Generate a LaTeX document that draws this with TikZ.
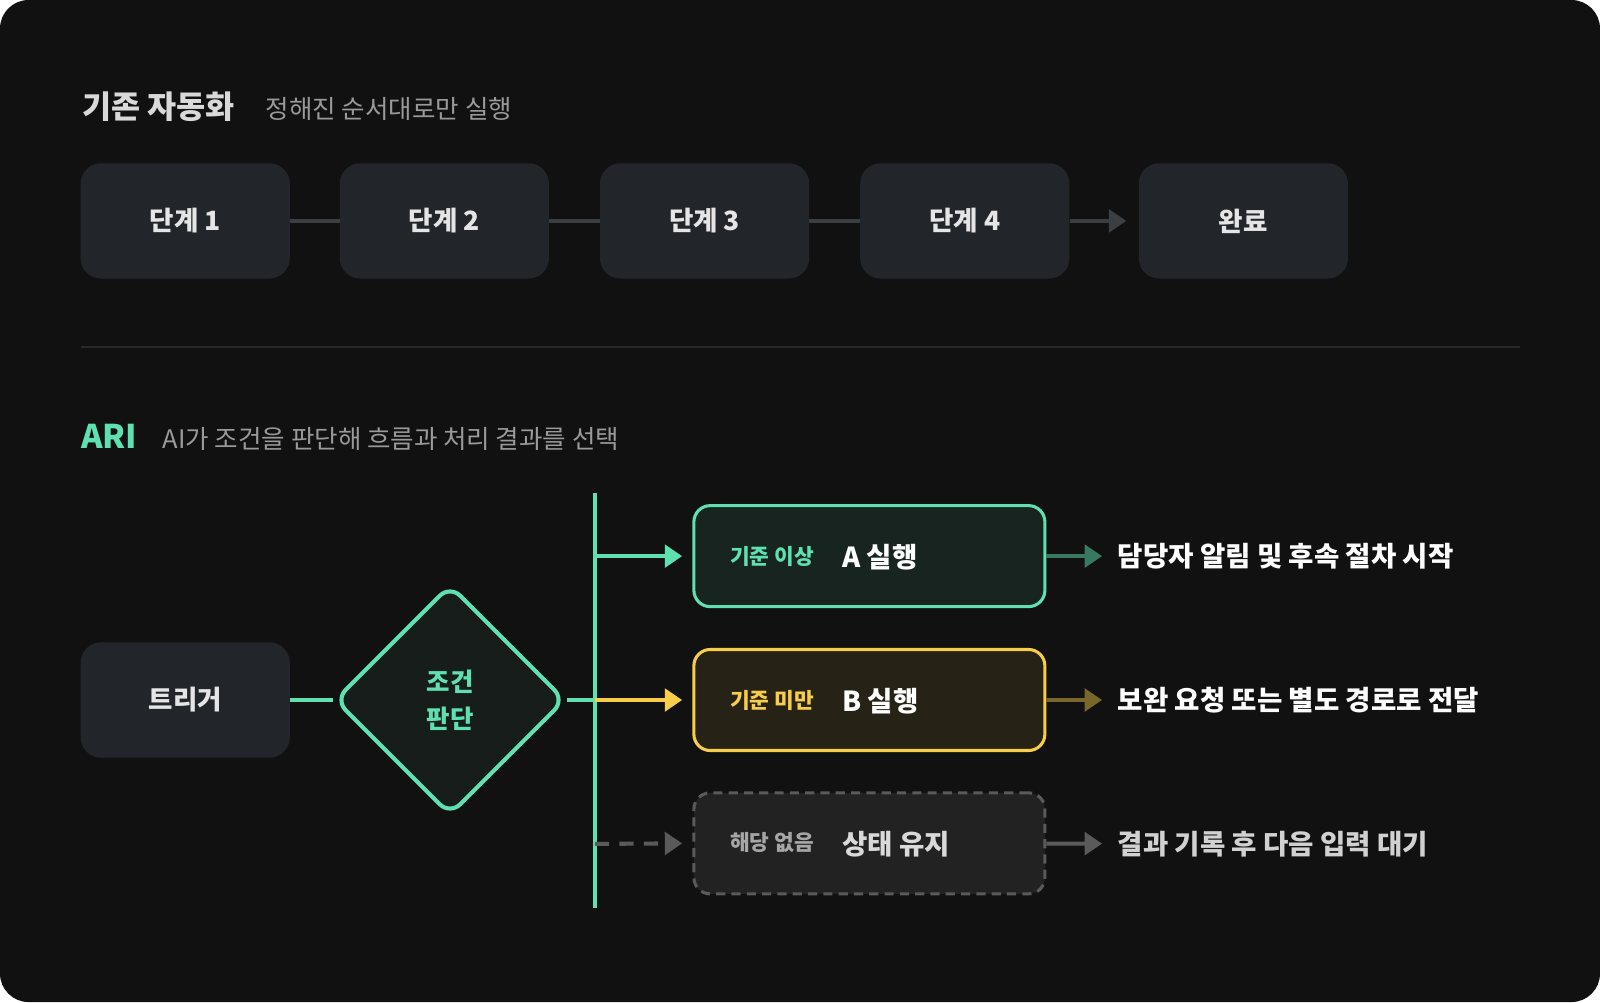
\documentclass[tikz,border=0pt]{standalone}
\usepackage{fontspec}
\setmainfont{Noto Sans CJK KR}
\usetikzlibrary{positioning, shapes.geometric, arrows.meta}
\definecolor{bgdark}{HTML}{111111}
\definecolor{boxgray}{HTML}{22262A}
\definecolor{linkgray}{HTML}{3A3F44}
\definecolor{subgray}{HTML}{9A9A9A}
\definecolor{mint}{HTML}{5EE0B0}
\definecolor{amber}{HTML}{F7CD4A}
\definecolor{dimgray}{HTML}{5A5A5A}

\begin{document}
\begin{tikzpicture}[x=1pt, y=-1pt, line join=round,
    stage/.style = {fill=boxgray, rounded corners=20pt, minimum width=205pt, minimum height=113pt, text=white!90!black, font=\fontsize{26}{30}\selectfont\bfseries},
    branch/.style = {rounded corners=16pt, minimum width=344pt, minimum height=99pt, line width=3pt},
    tag/.style = {anchor=west, font=\fontsize{21}{25}\selectfont\bfseries},
    act/.style = {anchor=west, text=white, font=\fontsize{27}{31}\selectfont\bfseries},
    result/.style = {anchor=west, font=\fontsize{27}{31}\selectfont\bfseries},
    link/.style = {line width=4pt, draw=linkgray},
    tip/.style = {-{Triangle[length=17pt, width=22pt]}}]
    % Background
    \fill[white] (0,0) rectangle (1568,982);
    \fill[bgdark, rounded corners=28pt] (0,0) rectangle (1568,982);
    \useasboundingbox (0,0) rectangle (1568,982);

    % Top: fixed sequence
    \node[anchor=west, text=white!85!black, font=\fontsize{31}{35}\selectfont\bfseries] (oldtitle) at (77,105) {기존 자동화};
    \node[anchor=west, text=subgray, font=\fontsize{25}{30}\selectfont] (oldsub) at (257,107) {정해진 순서대로만 실행};
    \node[stage] (s1) at (181.5,216.5) {단계 1};
    \node[stage] (s2) at (435.5,216.5) {단계 2};
    \node[stage] (s3) at (690.5,216.5) {단계 3};
    \node[stage] (s4) at (945.5,216.5) {단계 4};
    \node[stage] (done) at (1218.5,216.5) {완료};
    \draw[link] (s1) -- (s2);
    \draw[link] (s2) -- (s3);
    \draw[link] (s3) -- (s4);
    \draw[link, tip, shorten >=12pt] (s4) -- (done);

    % Divider
    \coordinate (divL) at (79,340);
    \coordinate (divR) at (1490,340);
    \draw[line width=1.2pt, draw=white!16!black] (divL) -- (divR);

    % Bottom: ARI
    \node[anchor=west, text=mint, font=\fontsize{32}{36}\selectfont\bfseries] (arititle) at (76,428) {ARI};
    \node[anchor=west, text=subgray, font=\fontsize{25}{30}\selectfont] (arisub) at (156,430) {AI가 조건을 판단해 흐름과 처리 결과를 선택};

    \node[stage] (trigger) at (181.5,686) {트리거};
    \node[diamond, draw=mint, line width=4pt, fill=mint!6!bgdark, rounded corners=14pt, minimum size=226pt, inner sep=0pt, align=center, text=mint, font=\fontsize{25}{36}\selectfont\bfseries] (judge) at (441,686) {조건\\판단};

    % Bus
    \coordinate (busT) at (583,483);
    \coordinate (busB) at (583,890);
    \coordinate (busA) at (583,545);
    \coordinate (busM) at (583,686);
    \coordinate (busC) at (583,827);
    \draw[line width=4pt, draw=mint] (busT) -- (busB);

    % Branches
    \node[branch, draw=mint, fill=mint!9!bgdark] (optA) at (852,545) {};
    \node[branch, draw=amber, fill=amber!9!bgdark] (optB) at (852,686) {};
    \node[branch, draw=dimgray, dashed, dash pattern=on 9pt off 6pt, fill=white!7!bgdark] (optC) at (852,826.5) {};

    \node[tag, text=mint] (tagA) at (712,545) {기준 이상};
    \node[act] (actA) at (822,546) {A 실행};
    \node[tag, text=amber] (tagB) at (712,686) {기준 미만};
    \node[act] (actB) at (822,687) {B 실행};
    \node[tag, text=white!65!black] (tagC) at (712,826) {해당 없음};
    \node[act, text=white!85!black] (actC) at (822,827) {상태 유지};

    \draw[line width=4pt, draw=mint] (trigger) -- (judge);
    \draw[line width=4pt, draw=mint] (judge) -- (busM);
    \draw[line width=4pt, draw=mint, tip] (busA) -- ([xshift=-10pt]optA.west);
    \draw[line width=4pt, draw=amber, tip] (busM) -- ([xshift=-10pt]optB.west);
    \draw[line width=4pt, draw=dimgray, dash pattern=on 14pt off 10pt, tip] (busC) -- ([xshift=-10pt]optC.west);

    % Results
    \node[result, text=white] (resA) at (1092,545) {담당자 알림 및 후속 절차 시작};
    \node[result, text=white] (resB) at (1092,686) {보완 요청 또는 별도 경로로 전달};
    \node[result, text=white!82!black] (resC) at (1092,827) {결과 기록 후 다음 입력 대기};
    \draw[line width=4pt, draw=mint!50!bgdark, tip, shorten >=12pt] (optA) -- (resA);
    \draw[line width=4pt, draw=amber!45!bgdark, tip, shorten >=12pt] (optB) -- (resB);
    \draw[line width=4pt, draw=dimgray, tip, shorten >=12pt] (optC) -- (resC);
\end{tikzpicture}
\end{document}
